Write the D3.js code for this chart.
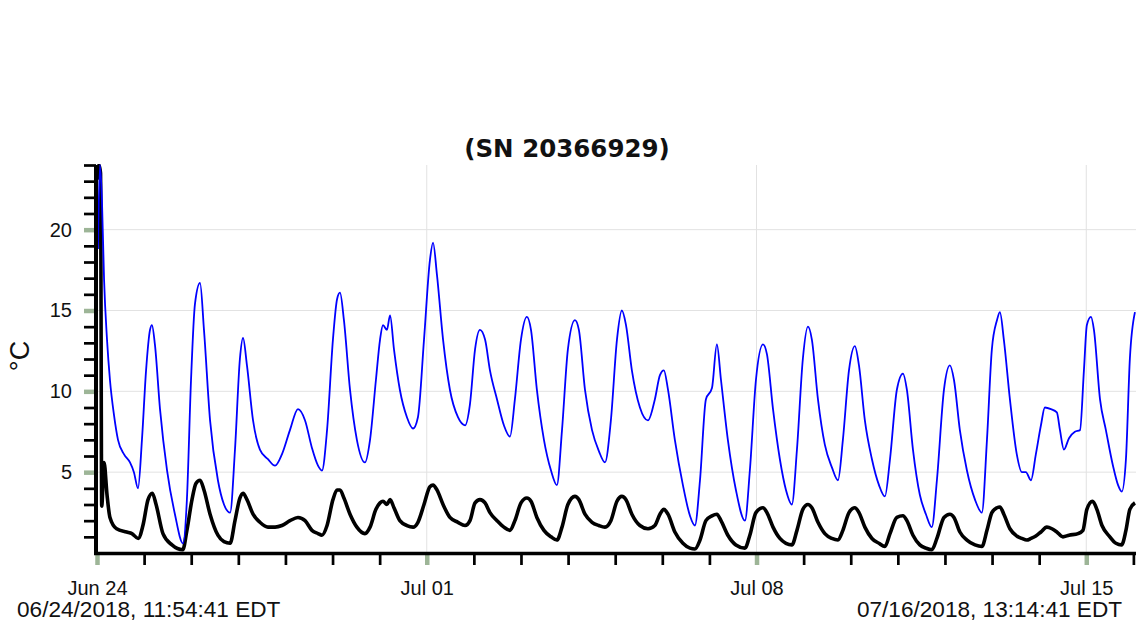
<!DOCTYPE html>
<html><head><meta charset="utf-8">
<script src="https://cdn.jsdelivr.net/npm/d3@7"></script>
<style>
html,body{margin:0;padding:0;background:#fff;}
svg{display:block;}
</style></head>
<body>
<script>
// ---- data (hours since logging start, °C) ----
const startLabel = "06/24/2018, 11:54:41 EDT";
const endLabel = "07/16/2018, 13:14:41 EDT";
const titleText = "(SN 20366929)";
const yLabel = "°C";
const totalHours = 529.33;
const dayTickLabels = ["Jun 24", "Jul 01", "Jul 08", "Jul 15"];
const majorDays = [0, 7, 14, 21];
const yMajor = [5, 10, 15, 20];

const blueSeries = [
[0.5,18.8],[1.5,24.0],[2.5,21.9],[3.6,16.9],[5.1,13.2],[6.6,10.7],[8.7,8.5],[10.7,7.0],[13.8,6.1],[16.8,5.6],[18.8,5.0],[20.9,4.0],
[22.9,7.0],[25.0,11.3],[27.0,13.8],[28.0,14.1],[29.5,12.9],[32.1,8.9],[35.7,5.1],[39.7,2.4],[43.8,0.6],
[45.8,3.3],[47.9,10.7],[49.9,15.4],[52.5,16.7],[54.5,13.8],[57.6,8.2],[61.6,4.5],[64.7,3.0],[67.8,2.5],
[70.3,6.4],[72.8,12.0],[74.4,13.3],[76.4,11.6],[79.5,8.2],[83.0,6.4],[87.1,5.8],[90.7,5.4],
[94.2,6.1],[98.3,7.6],[102.4,8.9],[106.0,8.2],[109.5,6.5],[112.6,5.4],[114.6,5.1],
[117.2,7.6],[120.2,13.2],[122.3,15.7],[123.8,16.1],[125.8,14.4],[128.9,10.1],[132.4,7.0],[136.5,5.6],
[139.1,7.0],[142.1,10.7],[144.2,13.2],[145.7,14.1],[147.7,13.8],[149.3,14.7],[151.3,12.6],[154.3,10.1],[157.9,8.4],[161.0,7.7],
[163.5,8.4],[166.6,13.2],[169.6,18.1],[171.2,19.2],[173.2,17.2],[176.3,13.2],[179.8,10.1],[183.9,8.4],[187.5,7.9],
[190.0,9.2],[192.6,12.6],[195.1,13.8],[197.7,13.2],[200.2,11.3],[203.8,9.5],[207.3,7.9],[210.4,7.2],
[212.9,9.5],[216.0,13.2],[219.0,14.6],[221.1,13.8],[224.1,10.1],[227.7,7.0],[231.3,5.1],[234.3,4.2],
[236.9,7.6],[239.9,12.6],[243.5,14.4],[245.5,13.8],[248.6,10.1],[252.2,7.6],[255.7,6.3],[258.8,5.6],
[261.8,8.2],[264.9,13.2],[267.4,15.0],[269.5,14.1],[272.5,11.3],[276.6,9.0],[280.7,8.2],
[284.2,9.5],[286.8,11.0],[288.8,11.3],[290.9,10.1],[294.4,7.0],[298.5,4.2],[302.1,2.3],[304.6,1.7],
[307.2,4.5],[310.2,9.5],[313.3,10.2],[315.8,12.9],[317.9,10.7],[321.4,7.0],[325.5,3.9],[330.1,2.0],
[332.6,5.1],[335.7,10.7],[339.3,12.9],[341.3,12.3],[344.4,8.9],[347.9,5.8],[351.0,3.9],[354.0,3.0],
[356.6,6.4],[359.6,12.0],[362.2,14.0],[364.2,13.2],[367.3,9.5],[370.8,6.7],[374.4,5.3],[377.5,4.5],
[380.0,7.0],[383.1,11.3],[386.1,12.8],[388.2,11.6],[391.2,8.2],[394.8,5.8],[398.4,4.2],[401.4,3.5],
[404.0,5.8],[407.5,10.1],[410.6,11.1],[412.6,10.1],[415.7,6.4],[419.2,3.6],[422.3,2.4],[425.3,1.6],
[427.9,4.5],[431.5,10.1],[434.5,11.6],[436.6,10.7],[439.6,7.6],[443.2,5.1],[447.3,3.3],[450.8,2.5],
[453.4,7.0],[455.9,12.6],[458.5,14.4],[460.0,14.9],[462.0,13.2],[465.1,9.5],[468.6,6.1],[471.2,5.0],[473.2,5.0],[475.8,4.5],
[478.3,6.1],[480.9,7.9],[482.9,9.0],[486.0,8.9],[489.0,8.7],[490.6,7.6],[492.6,6.4],[495.2,7.1],[498.2,7.5],[500.8,7.6],
[502.8,11.3],[504.3,14.1],[506.4,14.6],[507.9,13.8],[511.0,9.5],[514.0,7.6],[517.6,5.4],[520.2,4.2],[522.1,3.8],
[524.2,5.8],[526.2,12.0],[528.8,14.9]
];

const blackSeries = [
[0,23.1],[1.0,24.0],[1.8,23.5],[2.4,2.9],[3.6,5.6],[5.1,3.6],[6.6,2.2],[10.0,1.5],[15.1,1.3],[17.8,1.2],[21.0,0.9],
[23.4,1.7],[26.0,3.3],[28.2,3.7],[30.1,3.0],[33.6,1.2],[38.2,0.5],[43.7,0.2],
[45.8,1.4],[48.4,3.3],[50.4,4.3],[52.5,4.5],[54.5,3.9],[57.6,2.4],[61.6,1.1],[64.7,0.7],[67.8,0.6],
[70.3,2.0],[72.8,3.4],[74.4,3.7],[76.4,3.3],[79.5,2.4],[83.0,1.9],[87.1,1.6],[90.7,1.6],
[94.2,1.7],[98.3,2.0],[102.4,2.2],[106.0,2.0],[109.5,1.4],[112.6,1.2],[114.6,1.1],
[117.2,1.7],[120.2,3.3],[122.3,3.9],[123.8,3.9],[125.8,3.4],[128.9,2.4],[132.4,1.6],[136.5,1.2],
[139.1,1.6],[142.1,2.7],[144.2,3.1],[145.7,3.2],[147.7,3.0],[149.3,3.3],[151.3,2.8],[154.3,2.0],[157.9,1.7],[161.0,1.6],
[163.5,1.9],[166.6,3.0],[169.6,4.1],[171.2,4.2],[173.2,3.9],[176.3,3.0],[179.8,2.2],[183.9,1.9],[187.5,1.7],
[190.0,2.0],[192.6,3.1],[195.1,3.3],[197.7,3.1],[200.2,2.5],[203.8,2.0],[207.3,1.6],[210.4,1.4],
[212.9,2.0],[216.0,3.1],[219.0,3.4],[221.1,3.2],[224.1,2.2],[227.7,1.4],[231.3,1.0],[234.3,0.8],
[236.9,1.6],[239.9,3.0],[243.5,3.5],[245.5,3.3],[248.6,2.4],[252.2,1.9],[255.7,1.7],[258.8,1.6],
[261.8,2.0],[264.9,3.2],[267.4,3.5],[269.5,3.3],[272.5,2.4],[276.6,1.7],[280.7,1.5],
[284.2,1.7],[286.8,2.4],[288.8,2.7],[290.9,2.4],[294.4,1.3],[298.5,0.6],[302.1,0.3],[304.6,0.25],
[307.2,0.8],[310.2,2.0],[313.3,2.3],[315.8,2.4],[317.9,2.0],[321.4,1.1],[325.5,0.5],[330.1,0.3],
[332.6,1.1],[335.7,2.5],[339.3,2.8],[341.3,2.5],[344.4,1.6],[347.9,0.9],[351.0,0.6],[354.0,0.5],
[356.6,1.4],[359.6,2.7],[362.2,3.0],[364.2,2.8],[367.3,1.9],[370.8,1.2],[374.4,0.9],[377.5,0.8],
[380.0,1.4],[383.1,2.5],[386.1,2.8],[388.2,2.5],[391.2,1.6],[394.8,0.9],[398.4,0.6],[401.4,0.4],
[404.0,1.2],[407.5,2.2],[410.6,2.3],[412.6,2.0],[415.7,1.1],[419.2,0.5],[422.3,0.3],[425.3,0.2],
[427.9,0.9],[431.5,2.2],[434.5,2.4],[436.6,2.2],[439.6,1.3],[443.2,0.8],[447.3,0.5],[450.8,0.4],
[453.4,1.4],[455.9,2.5],[458.5,2.8],[460.0,2.85],[462.0,2.4],[465.1,1.5],[468.6,1.05],[471.2,0.9],[473.7,0.8],[475.8,0.9],
[478.3,1.05],[480.9,1.3],[483.9,1.6],[486.5,1.5],[489.0,1.3],[492.1,1.0],[495.2,1.1],[499.8,1.2],[502.3,1.4],
[504.3,2.7],[507.2,3.2],[509.4,2.7],[512.0,1.7],[516.0,1.0],[519.1,0.6],[522.0,0.5],
[524.2,1.4],[526.2,2.7],[528.8,3.1]
];

// ---- layout ----
const W = 1136, H = 640;
const plot = {left: 97, right: 1136, top: 165, bottom: 553};
const svg = d3.select("body").append("svg").attr("width", W).attr("height", H);

const x = d3.scaleLinear().domain([0, totalHours]).range([plot.left, plot.right]);
const y = d3.scaleLinear().domain([0, 24]).range([plot.bottom, plot.top]);

const tickGreen = "#9db597";
const labelFont = "'Liberation Sans', Arial, Helvetica, sans-serif";

// grid
const dayHours = d3.range(0, 23).map(d => d * 24);
svg.append("g").selectAll("line").data(yMajor).join("line")
  .attr("x1", plot.left).attr("x2", plot.right)
  .attr("y1", d => y(d)).attr("y2", d => y(d))
  .attr("stroke", "#e2e2e2").attr("stroke-width", 1);
svg.append("g").selectAll("line").data(majorDays.slice(1)).join("line")
  .attr("x1", d => x(d * 24)).attr("x2", d => x(d * 24))
  .attr("y1", plot.top).attr("y2", plot.bottom)
  .attr("stroke", "#e2e2e2").attr("stroke-width", 1);

// lines
svg.append("clipPath").attr("id", "clip").append("rect")
  .attr("x", plot.left).attr("y", plot.top - 1)
  .attr("width", plot.right - plot.left).attr("height", plot.bottom - plot.top + 1);
const line = d3.line().x(d => x(d[0])).y(d => y(d[1])).curve(d3.curveMonotoneX);
const lines = svg.append("g").attr("clip-path", "url(#clip)");
lines.append("path").datum(blackSeries).attr("d", line)
  .attr("fill", "none").attr("stroke", "#000").attr("stroke-width", 3.6)
  .attr("stroke-linejoin", "round");
lines.append("path").datum(blueSeries).attr("d", line)
  .attr("fill", "none").attr("stroke", "#0000ff").attr("stroke-width", 1.8)
  .attr("stroke-linejoin", "round");

// y axis
const yMinor = d3.range(1, 25).filter(v => !yMajor.includes(v));
const yAxisG = svg.append("g").attr("transform", `translate(${plot.left - 1},0)`);
yAxisG.call(d3.axisLeft(y).tickValues(yMinor).tickSize(12).tickSizeOuter(0).tickFormat(""));
yAxisG.selectAll(".tick line").attr("stroke", "#000").attr("stroke-width", 2.7);
yAxisG.select(".domain").remove();
const yMajG = svg.append("g").attr("transform", `translate(${plot.left - 1},0)`);
yMajG.call(d3.axisLeft(y).tickValues(yMajor).tickSize(12).tickPadding(12).tickSizeOuter(0));
yMajG.select(".domain").remove();
yMajG.selectAll(".tick line").attr("stroke", tickGreen).attr("stroke-width", 4.5).attr("x2", -12).attr("x1", -2);
yMajG.selectAll(".tick text").attr("font-family", labelFont).attr("font-size", 20).attr("fill", "#111");
svg.append("line").attr("x1", plot.left - 1).attr("x2", plot.left - 1)
  .attr("y1", plot.top).attr("y2", plot.bottom + 2)
  .attr("stroke", "#000").attr("stroke-width", 4);

// x axis
const xAxisG = svg.append("g").attr("transform", `translate(0,${plot.bottom})`);
xAxisG.call(d3.axisBottom(x).tickValues(dayHours.filter(h => !majorDays.includes(h / 24))).tickSize(12).tickSizeOuter(0).tickFormat(""));
xAxisG.select(".domain").remove();
xAxisG.selectAll(".tick line").attr("stroke", "#000").attr("stroke-width", 2.7);
const xMajG = svg.append("g").attr("transform", `translate(0,${plot.bottom})`);
xMajG.call(d3.axisBottom(x).tickValues(majorDays.map(d => d * 24)).tickSize(12).tickSizeOuter(0)
  .tickFormat((d, i) => dayTickLabels[i]));
xMajG.select(".domain").remove();
xMajG.selectAll(".tick line").attr("stroke", tickGreen).attr("stroke-width", 4.5).attr("y1", 2);
xMajG.selectAll(".tick text").attr("font-family", labelFont).attr("font-size", 20).attr("fill", "#111")
  .attr("y", 42).attr("dy", 0);
svg.append("line").attr("x1", plot.left - 3).attr("x2", plot.right)
  .attr("y1", plot.bottom + 0.5).attr("y2", plot.bottom + 0.5)
  .attr("stroke", "#000").attr("stroke-width", 3.5);

// date labels
svg.append("text").attr("x", 17).attr("y", 617).attr("font-family", labelFont)
  .attr("font-size", 22.6).attr("fill", "#111").text(startLabel);
svg.append("text").attr("x", 1122).attr("y", 617).attr("text-anchor", "end").attr("font-family", labelFont)
  .attr("font-size", 22.6).attr("fill", "#111").text(endLabel);

// title
svg.append("text").attr("x", 567).attr("y", 157).attr("text-anchor", "middle")
  .attr("font-family", "'DejaVu Sans', sans-serif").attr("font-weight", "bold")
  .attr("font-size", 24.5).attr("fill", "#111").text(titleText);

// y label
svg.append("text").attr("transform", "translate(29,356) rotate(-90)").attr("text-anchor", "middle")
  .attr("font-family", labelFont).attr("font-size", 27).attr("fill", "#111").text(yLabel);
</script>
</body></html>
